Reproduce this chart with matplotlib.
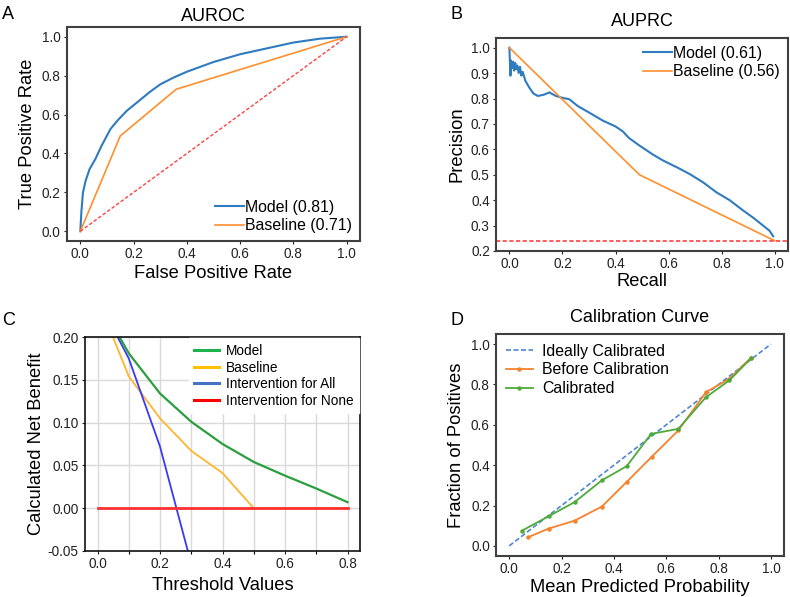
import matplotlib.pyplot as plt
from matplotlib.lines import Line2D
from matplotlib.ticker import MultipleLocator

plt.rcParams['font.family'] = ['Liberation Sans', 'DejaVu Sans']

# Panel A - ROC curves
roc_fpr = [0, 0.004, 0.01, 0.02, 0.035, 0.056, 0.08, 0.113, 0.14, 0.175, 0.22, 0.26,
           0.30, 0.35, 0.40, 0.43, 0.5, 0.6, 0.7, 0.8, 0.9, 1.0]
roc_tpr = [0, 0.10, 0.20, 0.26, 0.32, 0.37, 0.44, 0.525, 0.57, 0.62, 0.67, 0.715,
           0.755, 0.79, 0.82, 0.835, 0.87, 0.91, 0.94, 0.97, 0.99, 1.0]
roc_base_fpr = [0, 0.15, 0.36, 1.0]
roc_base_tpr = [0, 0.49, 0.73, 1.0]

# Panel B - precision recall curves
pr_recall = [0.0, 0.004, 0.006, 0.01, 0.014, 0.018, 0.022, 0.026, 0.03, 0.035, 0.04, 0.045,
             0.05, 0.06, 0.075, 0.09, 0.107, 0.13, 0.151, 0.175, 0.195, 0.226, 0.258, 0.30,
             0.352, 0.40, 0.428, 0.45, 0.49, 0.54, 0.579, 0.63, 0.679, 0.73, 0.78, 0.83,
             0.88, 0.92, 0.956, 0.98, 0.994]
pr_precision = [1.0, 0.89, 0.95, 0.92, 0.945, 0.91, 0.94, 0.915, 0.93, 0.90, 0.925, 0.89,
                0.905, 0.87, 0.843, 0.82, 0.81, 0.815, 0.824, 0.81, 0.804, 0.797, 0.77, 0.745,
                0.713, 0.69, 0.67, 0.645, 0.615, 0.58, 0.556, 0.53, 0.503, 0.47, 0.431, 0.40,
                0.36, 0.33, 0.30, 0.28, 0.258]
pr_base_recall = [0.0, 0.49, 1.0]
pr_base_precision = [1.0, 0.50, 0.24]
prevalence = 0.238

# Panel C - decision curve
thresholds = [0.0, 0.1, 0.2, 0.3, 0.4, 0.5, 0.6, 0.7, 0.8]
nb_model = [0.245, 0.181, 0.134, 0.101, 0.075, 0.054, 0.038, 0.023, 0.007]
nb_baseline = [0.245, 0.154, 0.105, 0.067, 0.041, 0.0, 0.0, 0.0, 0.0]
all_thresholds = [0.0, 0.1, 0.2, 0.3]
nb_all = [0.245, 0.175, 0.072, -0.065]
nb_none = [0.0] * len(thresholds)

# Panel D - calibration
before_pred = [0.071, 0.151, 0.25, 0.354, 0.449, 0.545, 0.646, 0.752, 0.841, 0.924]
before_frac = [0.042, 0.086, 0.125, 0.195, 0.317, 0.442, 0.572, 0.762, 0.828, 0.933]
calib_pred = [0.048, 0.151, 0.25, 0.354, 0.449, 0.542, 0.646, 0.752, 0.841, 0.924]
calib_frac = [0.075, 0.147, 0.217, 0.325, 0.395, 0.555, 0.58, 0.737, 0.82, 0.93]

fig = plt.figure(figsize=(7.9, 5.97), dpi=100)

ax_a = fig.add_axes([0.0848, 0.5963, 0.3709, 0.3585])
ax_b = fig.add_axes([0.628, 0.5796, 0.3695, 0.3567])
ax_c = fig.add_axes([0.1076, 0.0771, 0.3481, 0.3584])
ax_d = fig.add_axes([0.628, 0.0687, 0.3644, 0.3718])

tick_fs = 9.8
label_fs = 13.2
leg_fs = 11.4


def style_box(ax, color='#404040', lw=1.5):
    for sp in ax.spines.values():
        sp.set_color(color)
        sp.set_linewidth(lw)
    ax.tick_params(labelsize=tick_fs, length=2.5, width=0.8, pad=2, colors='#222222')


# A
ax_a.plot(roc_fpr, roc_tpr, color='#2f7bbf', lw=1.5, label='Model (0.81)')
ax_a.plot(roc_base_fpr, roc_base_tpr, color='#ff8f2e', lw=1.2, label='Baseline (0.71)')
ax_a.plot([0, 1], [0, 1], color='#ff4040', lw=1.0, ls=(0, (2.5, 1.5)))
ax_a.set_title('AUROC', fontsize=13, pad=4)
ax_a.set_xlabel('False Positive Rate', fontsize=label_fs, labelpad=3)
ax_a.set_ylabel('True Positive Rate', fontsize=label_fs)
ax_a.set_xticks([0, 0.2, 0.4, 0.6, 0.8, 1.0])
ax_a.set_yticks([0, 0.2, 0.4, 0.6, 0.8, 1.0])
ax_a.legend(loc='lower right', frameon=False, fontsize=leg_fs, handlelength=1.8,
            handletextpad=0.1, labelspacing=0.2, borderaxespad=0.1)
style_box(ax_a)

# B
ax_b.plot(pr_recall, pr_precision, color='#2f7bbf', lw=1.5, label='Model (0.61)')
ax_b.plot(pr_base_recall, pr_base_precision, color='#ff8f2e', lw=1.2, label='Baseline (0.56)')
ax_b.axhline(prevalence, color='#ff4040', lw=1.2, ls=(0, (2.5, 1.5)))
ax_b.set_title('AUPRC', fontsize=13, pad=9)
ax_b.set_xlabel('Recall', fontsize=label_fs, labelpad=1)
ax_b.set_ylabel('Precision', fontsize=label_fs)
ax_b.set_xticks([0, 0.2, 0.4, 0.6, 0.8, 1.0])
ax_b.set_yticks([0.2, 0.3, 0.4, 0.5, 0.6, 0.7, 0.8, 0.9, 1.0])
ax_b.legend(loc='upper right', frameon=False, fontsize=leg_fs, handlelength=1.8,
            handletextpad=0.1, labelspacing=0.2, borderaxespad=0.1)
style_box(ax_b)

# C
ax_c.plot(thresholds, nb_none, color='#ff3030', lw=2.0, zorder=3)
ax_c.plot(thresholds, nb_baseline, color='#ffb52e', lw=1.3, zorder=2)
ax_c.plot(all_thresholds, nb_all, color='#3a3af5', lw=1.3, zorder=2)
ax_c.plot(thresholds, nb_model, color='#2b9e3e', lw=1.6, zorder=2)
ax_c.set_ylim(-0.05, 0.2)
ax_c.set_xlim(-0.04, 0.84)
ax_c.xaxis.set_major_locator(MultipleLocator(0.2))
ax_c.xaxis.set_minor_locator(MultipleLocator(0.1))
ax_c.yaxis.set_major_locator(MultipleLocator(0.05))
ax_c.grid(which='both', color='#d9d9d9', lw=1.0)
ax_c.set_axisbelow(True)
ax_c.set_xlabel('Threshold Values', fontsize=label_fs, labelpad=4)
ax_c.set_ylabel('Calculated Net Benefit', fontsize=label_fs, labelpad=2)
c_handles = [Line2D([], [], color='#1db34a', lw=2.2),
             Line2D([], [], color='#ffc000', lw=2.2),
             Line2D([], [], color='#4472c4', lw=2.2),
             Line2D([], [], color='#ff0000', lw=2.2)]
c_labels = ['Model', 'Baseline', 'Intervention for All', 'Intervention for None']
ax_c.legend(c_handles, c_labels, loc='upper right', fontsize=9.8, handlelength=1.8,
            handletextpad=0.5, labelspacing=0.2, borderaxespad=0.1,
            fancybox=False, framealpha=1.0, edgecolor='white')
style_box(ax_c, color='#111111', lw=1.2)
ax_c.tick_params(which='minor', length=2.5, width=0.8)
ax_c.yaxis.set_major_formatter(plt.FormatStrFormatter('%.2f'))

# D
ax_d.plot([0, 1], [0, 1], color='#4f86d0', lw=1.2, ls=(0, (3, 1.5)), label='Ideally Calibrated')
ax_d.plot(before_pred, before_frac, color='#f5822e', lw=1.3, marker='o', ms=2.2,
          label='Before Calibration')
ax_d.plot(calib_pred, calib_frac, color='#4eaa3a', lw=1.3, marker='o', ms=2.2, label='Calibrated')
ax_d.set_title('Calibration Curve', fontsize=13, pad=9)
ax_d.set_xlabel('Mean Predicted Probability', fontsize=label_fs, labelpad=2)
ax_d.set_ylabel('Fraction of Positives', fontsize=label_fs)
ax_d.set_xticks([0, 0.2, 0.4, 0.6, 0.8, 1.0])
ax_d.set_yticks([0, 0.2, 0.4, 0.6, 0.8, 1.0])
ax_d.legend(loc='upper left', frameon=False, fontsize=leg_fs, handlelength=1.7,
            handletextpad=0.6, labelspacing=0.25, borderaxespad=0.2)
style_box(ax_d)

# panel letters
for letter, x, y in [('A', 0.003, 0.99), ('B', 0.57, 0.99), ('C', 0.003, 0.478), ('D', 0.57, 0.478)]:
    fig.text(x, y, letter, fontsize=13, ha='left', va='top')

plt.savefig('out.png', dpi=100)
plt.close()
